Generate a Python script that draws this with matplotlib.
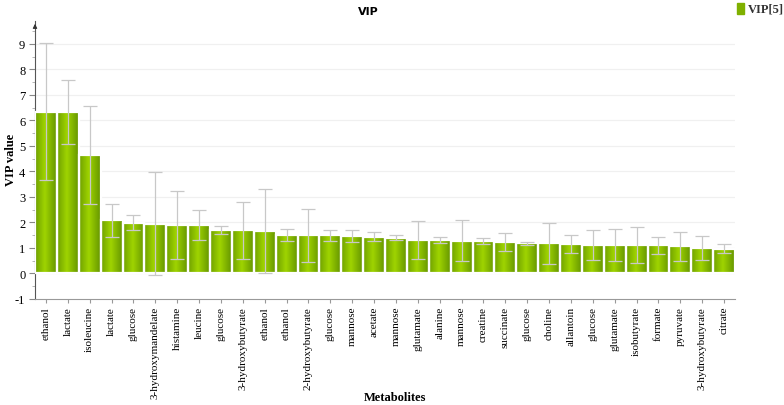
import numpy as np
import matplotlib.pyplot as plt
from matplotlib.patches import Rectangle
from matplotlib.colors import LinearSegmentedColormap

# Données
metabolites = ['ethanol', 'lactate', 'isoleucine', 'lactate', 'glucose', '3-hydroxymandelate',
               'histamine', 'leucine', 'glucose', '3-hydroxybutyrate', 'ethanol', 'ethanol',
               '2-hydroxybutyrate', 'glucose', 'mannose', 'acetate', 'mannose', 'glutamate',
               'alanine', 'mannose', 'creatine', 'succinate', 'glucose', 'choline', 'allantoin',
               'glucose', 'glutamate', 'isobutyrate', 'formate', 'pyruvate', '3-hydroxybutyrate',
               'citrate']
vip = [6.35, 6.32, 4.65, 2.09, 1.99, 1.96, 1.90, 1.90, 1.70, 1.69, 1.68, 1.50,
       1.50, 1.49, 1.46, 1.44, 1.40, 1.31, 1.31, 1.28, 1.28, 1.24, 1.18, 1.18, 1.15,
       1.12, 1.12, 1.12, 1.10, 1.06, 0.99, 0.98]
erreur = [2.68, 1.25, 1.92, 0.65, 0.30, 2.00, 1.32, 0.57, 0.15, 1.11, 1.65, 0.23,
          1.04, 0.22, 0.24, 0.17, 0.10, 0.73, 0.13, 0.80, 0.12, 0.36, 0.05, 0.80, 0.36,
          0.60, 0.62, 0.72, 0.35, 0.58, 0.47, 0.17]
yticks = [-1, 0, 1, 2, 3, 4, 5, 6, 7, 8, 9]

serif = 'Liberation Serif'

fig = plt.figure(figsize=(7.84, 4.06), dpi=100)
ax = fig.add_axes([35 / 784, 1 - 300 / 406, 700 / 784, 278 / 406])

x = np.arange(len(vip))
ax.set_xlim(-0.5, len(vip) - 0.5)
ax.set_ylim(-1, 9.9)

# Grille horizontale
for v in yticks[1:]:
    ax.axhline(v, color='#f0f0f0', lw=0.9, zorder=0)

# Barres avec dégradé horizontal
barres = ax.bar(x, vip, width=1.0, color='#88bb00', edgecolor='white', linewidth=1.6, zorder=2)
degrade = np.linspace(0, 1, 64)
profil = 1 - np.abs(degrade - 0.45) * 1.8
cmap = LinearSegmentedColormap.from_list('vert', ['#639400', '#9fd400'])
for b in barres:
    x0, y0 = b.get_x(), b.get_y()
    w, h = b.get_width(), b.get_height()
    im = ax.imshow(profil[np.newaxis, :], cmap=cmap, aspect='auto',
                   extent=[x0, x0 + w, y0, y0 + h], zorder=2.5, vmin=0, vmax=1)
    im.set_clip_path(b)
    ax.add_patch(Rectangle((x0, y0), w, h, fill=False, edgecolor='white', lw=1.6, zorder=2.6))

# Barres d'erreur
ax.errorbar(x, vip, yerr=erreur, fmt='none', ecolor='#c8c8c8', elinewidth=0.9,
            capsize=5, capthick=0.9, zorder=3)

# Axes
for s in ['top', 'right']:
    ax.spines[s].set_visible(False)
ax.spines['left'].set_color('#555555')
ax.spines['left'].set_linewidth(0.8)
ax.spines['bottom'].set_color('#999999')
ax.spines['bottom'].set_linewidth(0.8)
ax.annotate('', xy=(0, 1.0), xycoords='axes fraction', xytext=(0, 0.97),
            arrowprops=dict(arrowstyle='-|>', color='#333333', lw=0.8, mutation_scale=6))

ax.set_yticks(yticks)
ax.set_yticklabels([str(v) for v in yticks])
ax.set_yticks(np.arange(-1, 9.6, 0.5), minor=True)
ax.tick_params(axis='y', which='major', length=4, color='#888888', labelsize=9, pad=3)
ax.tick_params(axis='y', which='minor', length=2, color='#aaaaaa')
for t in ax.get_yticklabels():
    t.set_fontfamily(serif)

ax.set_xticks(x)
ax.set_xticklabels(metabolites, rotation=90, fontsize=8, fontfamily=serif)
ax.tick_params(axis='x', length=3, color='#999999', pad=2)

fig.text(11 / 784, 1 - 160 / 406, 'VIP value', ha='center', va='center', rotation=90,
         fontfamily=serif, fontweight='bold', fontsize=9)
fig.text(395 / 784, 1 - 398 / 406, 'Metabolites', ha='center', va='center',
         fontfamily=serif, fontweight='bold', fontsize=9)
fig.text(368 / 784, 1 - 12 / 406, 'VIP', ha='center', va='center',
         fontweight='bold', fontsize=8)

# Légende
fig.patches.append(Rectangle((737 / 784, 1 - 15 / 406), 7 / 784, 11 / 406,
                             transform=fig.transFigure, color='#7fb000', figure=fig))
fig.text(748 / 784, 1 - 9 / 406, 'VIP[5]', ha='left', va='center',
         fontfamily=serif, fontweight='bold', fontsize=9, color='#333333')

fig.savefig('out.png', dpi=100)
